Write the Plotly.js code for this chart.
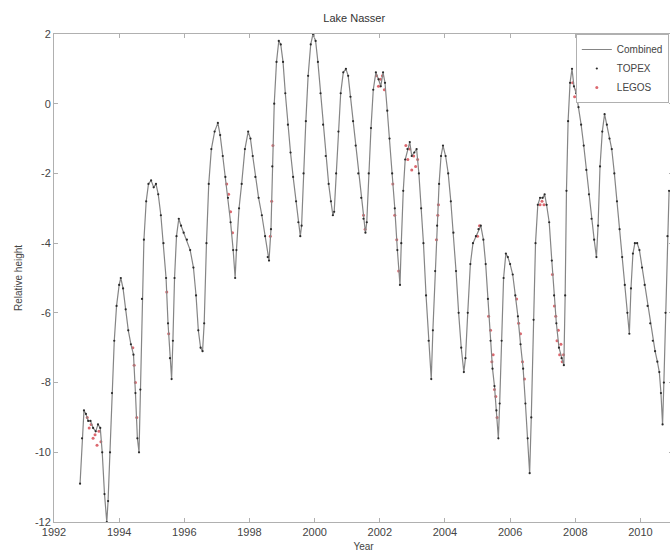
<!DOCTYPE html>
<html>
<head>
<meta charset="utf-8">
<script src="https://cdn.plot.ly/plotly-3.0.1.min.js"></script>
<style>
html, body { margin: 0; padding: 0; overflow: hidden; background: #fff; }
#chart { width: 710px; height: 555px; }
</style>
</head>
<body>
<div id="chart"></div>
<script>
// ---- Data ----
const combYear = [
1992.80,1992.86,1992.92,1992.98,1993.05,1993.12,1993.20,1993.28,1993.35,1993.42,1993.48,1993.55,1993.62,1993.66,1993.72,1993.78,1993.85,1993.92,
1994.00,1994.05,1994.12,1994.20,1994.28,1994.36,1994.44,1994.50,1994.56,1994.61,1994.65,1994.70,1994.76,1994.83,1994.90,1994.98,
1995.06,1995.13,1995.20,1995.28,1995.36,1995.44,1995.50,1995.56,1995.61,1995.65,1995.70,1995.76,1995.83,1995.90,1995.98,
1996.08,1996.18,1996.28,1996.36,1996.43,1996.50,1996.56,1996.61,1996.68,1996.75,1996.83,1996.93,
1997.03,1997.10,1997.18,1997.26,1997.34,1997.42,1997.50,1997.56,1997.60,1997.68,1997.76,1997.86,1997.96,
1998.03,1998.10,1998.18,1998.28,1998.38,1998.48,1998.56,1998.60,1998.66,1998.70,1998.76,1998.83,1998.90,1998.96,
1999.03,1999.10,1999.18,1999.26,1999.34,1999.43,1999.50,1999.56,1999.60,1999.66,1999.73,1999.80,1999.88,1999.95,
2000.03,2000.10,2000.18,2000.26,2000.34,2000.43,2000.50,2000.56,2000.60,2000.66,2000.73,2000.80,2000.88,2000.96,
2001.03,2001.10,2001.18,2001.26,2001.34,2001.43,2001.50,2001.56,2001.60,2001.66,2001.73,2001.80,2001.88,2001.96,
2002.03,2002.10,2002.16,2002.23,2002.30,2002.38,2002.46,2002.54,2002.62,2002.66,2002.72,2002.78,2002.85,2002.92,2002.98,
2003.06,2003.13,2003.20,2003.27,2003.34,2003.42,2003.50,2003.58,2003.63,2003.70,2003.76,2003.82,2003.88,2003.94,
2004.02,2004.10,2004.18,2004.26,2004.34,2004.42,2004.50,2004.58,2004.63,2004.70,2004.78,2004.86,2004.95,
2005.03,2005.10,2005.18,2005.25,2005.32,2005.40,2005.46,2005.52,2005.58,2005.64,2005.68,2005.74,2005.80,2005.87,2005.93,
2006.00,2006.08,2006.16,2006.24,2006.32,2006.40,2006.47,2006.54,2006.60,2006.65,2006.72,2006.78,2006.85,2006.92,
2007.00,2007.06,2007.12,2007.20,2007.28,2007.35,2007.42,2007.50,2007.58,2007.65,2007.69,2007.73,2007.78,2007.84,2007.90,2007.96,
2008.03,2008.10,2008.18,2008.26,2008.34,2008.42,2008.50,2008.58,2008.65,2008.70,2008.76,2008.83,2008.90,2008.97,
2009.05,2009.12,2009.20,2009.28,2009.36,2009.44,2009.52,2009.60,2009.66,2009.71,2009.77,2009.83,2009.90,2009.97,
2010.05,2010.13,2010.22,2010.30,2010.38,2010.45,2010.52,2010.58,2010.63,2010.68,2010.72,2010.77,2010.83,2010.88
];
const combHeight = [
-10.9,-9.6,-8.8,-8.9,-9.1,-9.1,-9.3,-9.4,-9.2,-9.3,-10.0,-11.2,-12.0,-11.4,-10.0,-8.3,-6.8,-5.8,
-5.2,-5.0,-5.3,-5.9,-6.5,-6.9,-7.2,-8.3,-9.6,-10.0,-8.2,-5.6,-3.9,-2.8,-2.3,-2.2,
-2.4,-2.3,-2.6,-3.2,-4.0,-5.0,-6.3,-7.3,-7.9,-6.8,-5.0,-3.8,-3.3,-3.5,-3.7,
-3.9,-4.2,-4.7,-5.5,-6.5,-7.0,-7.1,-6.3,-4.0,-2.3,-1.3,-0.8,
-0.55,-0.9,-1.5,-2.1,-2.7,-3.4,-4.2,-5.0,-4.2,-3.0,-2.3,-1.3,-0.8,
-1.0,-1.5,-2.1,-2.7,-3.2,-3.8,-4.4,-4.5,-3.6,-1.8,0.0,1.2,1.8,1.7,
1.2,0.3,-0.6,-1.4,-2.1,-2.8,-3.4,-3.8,-3.5,-2.0,-0.5,0.8,1.7,2.0,
1.8,1.2,0.3,-0.6,-1.5,-2.3,-2.8,-3.2,-3.1,-2.0,-0.8,0.3,0.9,1.0,
0.8,0.2,-0.5,-1.2,-2.0,-2.7,-3.3,-3.7,-3.4,-2.0,-0.7,0.4,0.9,0.7,
0.5,0.9,0.6,-0.2,-1.0,-2.0,-3.0,-4.2,-5.2,-4.0,-2.5,-1.6,-1.3,-1.1,-1.5,
-1.4,-1.3,-2.0,-3.0,-4.0,-5.5,-6.8,-7.9,-6.5,-4.8,-3.5,-2.3,-1.5,-1.2,
-1.5,-2.0,-2.8,-3.7,-4.8,-6.0,-7.0,-7.7,-7.3,-6.0,-4.6,-4.0,-3.8,
-3.6,-3.5,-3.9,-4.6,-5.6,-6.8,-7.6,-8.1,-8.8,-9.6,-8.6,-6.8,-5.0,-4.3,-4.4,
-4.6,-4.9,-5.5,-6.1,-6.9,-7.6,-8.6,-9.6,-10.6,-9.0,-6.2,-4.0,-2.9,-2.7,
-2.7,-2.6,-2.9,-3.4,-4.5,-5.5,-6.3,-7.0,-7.3,-7.5,-5.5,-2.5,-0.5,0.6,1.0,0.5,
0.3,-0.1,-0.6,-1.2,-1.9,-2.6,-3.3,-3.9,-4.4,-3.5,-1.8,-0.8,-0.3,-0.6,
-1.0,-1.3,-2.0,-2.8,-3.6,-4.4,-5.2,-6.0,-6.6,-5.3,-4.3,-4.0,-4.0,-4.2,
-4.7,-5.2,-5.8,-6.3,-6.8,-7.1,-7.4,-7.7,-8.3,-9.2,-8.0,-6.0,-3.8,-2.5
];
// TOPEX samples (taken at the same read-off epochs as the combined curve)
const topexYear = combYear;
const topexHeight = combHeight;
// LEGOS samples (red)
const legosYear = [
1993.02,1993.08,1993.14,1993.20,1993.26,1993.32,1993.38,1993.44,
1994.42,1994.46,1994.50,1994.54,
1995.46,1995.52,
1997.30,1997.36,1997.42,1997.48,
1998.64,1998.68,1998.72,
2001.50,2001.55,
2001.90,2001.96,2002.02,2002.08,2002.14,
2002.40,2002.46,2002.52,2002.58,
2002.80,2002.86,2002.92,2002.98,2003.04,2003.10,2003.16,
2003.74,2003.78,2003.80,
2005.00,2005.06,
2005.34,2005.40,2005.44,2005.48,2005.52,2005.56,2005.60,
2006.20,2006.26,2006.32,2006.38,2006.44,
2006.92,2006.98,2007.04,
2007.30,2007.36,2007.40,2007.44,2007.48,2007.52,2007.56,2007.60,2007.64,
2007.92,2007.98,2008.04
];
const legosHeight = [
-9.0,-9.3,-9.2,-9.6,-9.5,-9.8,-9.4,-9.7,
-7.0,-7.5,-8.0,-9.0,
-5.4,-6.6,
-2.3,-2.6,-3.1,-3.7,
-3.8,-2.8,-1.2,
-3.2,-3.6,
0.8,0.5,0.7,0.8,0.4,
-2.3,-3.2,-3.9,-4.8,
-1.2,-1.6,-1.3,-1.9,-1.5,-1.8,-1.6,
-3.9,-3.2,-2.9,
-3.8,-3.5,
-6.1,-6.5,-7.4,-7.2,-8.2,-8.4,-9.0,
-5.6,-6.3,-6.6,-7.4,-7.9,
-2.9,-2.8,-2.9,
-4.9,-5.8,-6.1,-6.8,-6.5,-7.2,-6.9,-7.4,-7.2,
0.6,0.2,0.4
];
const xTickVals = [1992,1994,1996,1998,2000,2002,2004,2006,2008,2010];
const xTickText = ['1992','1994','1996','1998','2000','2002','2004','2006','2008','2010'];
const yTickVals = [-12,-10,-8,-6,-4,-2,0,2];
const yTickText = ['-12','-10','-8','-6','-4','-2','0','2'];

const FONT = 'Liberation Sans, Arial, Helvetica, sans-serif';

const traces = [
  {
    name: 'LEGOS', x: legosYear, y: legosHeight, type: 'scatter', mode: 'markers',
    marker: {color: 'rgba(205,40,50,0.7)', size: 3}, legendrank: 3
  },
  {
    name: 'Combined', x: combYear, y: combHeight, type: 'scatter', mode: 'lines',
    line: {color: '#858585', width: 1.2}, legendrank: 1
  },
  {
    name: 'TOPEX', x: topexYear, y: topexHeight, type: 'scatter', mode: 'markers',
    marker: {color: '#2a2a2a', size: 2.2}, legendrank: 2
  }
];

const axisCommon = {
  showgrid: false, zeroline: false, showline: true, mirror: 'ticks',
  linecolor: '#b0b0b0', linewidth: 1, ticks: 'inside', ticklen: 4,
  tickcolor: '#b0b0b0', tickfont: {family: FONT, size: 11, color: '#444'}
};

const layout = {
  width: 710, height: 555,
  margin: {l: 54, r: 37, t: 34, b: 33},
  paper_bgcolor: '#fff', plot_bgcolor: '#fff',
  font: {family: FONT, color: '#444'},
  title: {text: 'Lake Nasser', font: {family: FONT, size: 11, color: '#333'},
          x: 0.485, xref: 'paper', xanchor: 'center', y: 1 - 18/555, yref: 'container', yanchor: 'middle'},
  xaxis: Object.assign({}, axisCommon, {
    range: [1992, 2011], tickmode: 'array', tickvals: xTickVals, ticktext: xTickText,
    title: {text: 'Year', font: {family: FONT, size: 10, color: '#444'}, standoff: 5}
  }),
  yaxis: Object.assign({}, axisCommon, {
    range: [-12, 2], tickmode: 'array', tickvals: yTickVals, ticktext: yTickText,
    title: {text: 'Relative height', font: {family: FONT, size: 10, color: '#444'}, standoff: 10}
  }),
  showlegend: true,
  legend: {
    x: 0.843, xanchor: 'left', y: 1, yanchor: 'top',
    bgcolor: '#fff', bordercolor: '#b0b0b0', borderwidth: 1,
    font: {family: FONT, size: 10, color: '#444'},
    tracegroupgap: 0, itemwidth: 30
  }
};

Plotly.newPlot('chart', traces, layout, {displayModeBar: false, staticPlot: true});
</script>
</body>
</html>
